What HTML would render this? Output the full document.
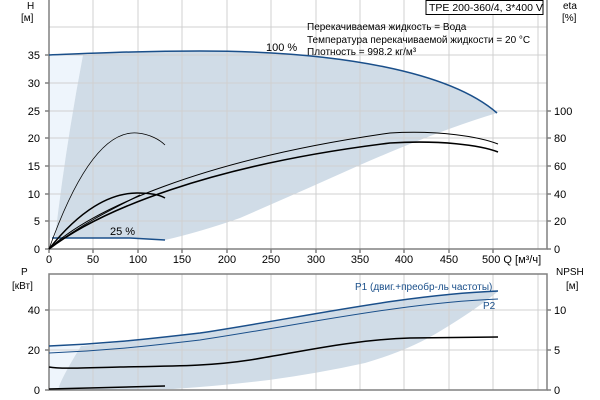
<!DOCTYPE html>
<html><head><meta charset="utf-8"><style>
body{margin:0;background:#fff}
svg{display:block;font-family:"Liberation Sans",sans-serif;font-size:11px}
</style></head><body>
<svg width="600" height="400" viewBox="0 0 600 400">
<rect width="600" height="400" fill="#fff"/>
<path d="M49,55 L49,238 L55,238 Q65,150 83,55 Z" fill="#eef5fc"/>
<path d="M83,55 Q65,150 55,238 L130,238 L165,240 Q200,232 240,218 Q300,192 360,165 Q440,130 497,113 C450,72 340,51 200,51 C140,51 100,53 83,55 Z" fill="#d0dce7"/>
<path d="M49,346 L81,346 Q60,380 58,390 L49,390 Z" fill="#eef5fc"/>
<path d="M81,346 Q60,380 58,390 L173,389 Q220,386 269,380 Q320,373 365,363 Q410,350 442,330 Q475,310 496,293 L498,291 C400,295 300,318 200,333 C140,341 100,344 81,346 Z" fill="#d0dce7"/>
<g stroke="#d0d0d0" stroke-width="1">
<path d="M93,0V249M138,0V249M182,0V249M227,0V249M271,0V249M316,0V249M360,0V249M404,0V249M449,0V249M493,0V249M538,0V249"/>
<path d="M49,221H547M49,194H547M49,166H547M49,138H547M49,111H547M49,83H547M49,55H547M49,27H547"/>
<path d="M93,274V390M138,274V390M182,274V390M227,274V390M271,274V390M316,274V390M360,274V390M404,274V390M449,274V390M493,274V390M538,274V390"/>
<path d="M49,350H547M49,310H547"/>
</g>
<g stroke="#808080" stroke-width="1.5" fill="none">
<path d="M49,0V249H547V0"/>
<rect x="49" y="274" width="498" height="116"/>
<path d="M45,249h4M45,221h4M45,194h4M45,166h4M45,138h4M45,111h4M45,83h4M45,55h4"/>
<path d="M547,249h4M547,221h4M547,194h4M547,166h4M547,138h4M547,111h4"/>
<path d="M49,249v4M93,249v4M138,249v4M182,249v4M227,249v4M271,249v4M316,249v4M360,249v4M404,249v4M449,249v4M493,249v4"/>
<path d="M45,390h4M45,350h4M45,310h4M547,390h4M547,350h4M547,310h4"/>
</g>
<path d="M49,55 C100,53 140,51 200,51 C340,51 450,72 497,113" fill="none" stroke="#1a4f8a" stroke-width="1.5"/>
<path d="M52,238 L130,238 L165,240" fill="none" stroke="#1a4f8a" stroke-width="1.5"/>
<path d="M49,249 C90,210 200,160 390,133 C440,130 480,137 498,144" fill="none" stroke="#000" stroke-width="1"/>
<path d="M49,249 C100,210 210,165 390,143 C440,140 480,145 498,152" fill="none" stroke="#000" stroke-width="1.6"/>
<path d="M49,249 C70,190 100,130 137,133 C150,134 160,140 165,145" fill="none" stroke="#000" stroke-width="0.8"/>
<path d="M49,249 C80,210 110,193 137,193 C150,193 160,195 165,198" fill="none" stroke="#000" stroke-width="1.5"/>
<path d="M49,249 C80,225 110,210 140,195" fill="none" stroke="#000" stroke-width="1"/>
<path d="M49,346 C100,344 140,340 200,333 C300,318 400,295 498,291" fill="none" stroke="#1a4f8a" stroke-width="1.5"/>
<path d="M49,353 C100,351 140,347 200,340 C300,325 400,303 498,299" fill="none" stroke="#1a4f8a" stroke-width="1"/>
<path d="M49,367 C60,369 80,368 120,367 C180,366 210,366 250,360 C300,352 350,340 410,338 L498,337" fill="none" stroke="#000" stroke-width="1.5"/>
<path d="M49,389 L165,386" fill="none" stroke="#000" stroke-width="1.5"/>
<g fill="#000">
<text x="27" y="9" font-size="10">H</text><text x="21" y="21" font-size="10">[м]</text>
<text x="563" y="9" font-size="10">eta</text><text x="562" y="21" font-size="10">[%]</text>
<g text-anchor="end"><text x="40" y="253">0</text><text x="40" y="225">5</text><text x="40" y="198">10</text><text x="40" y="170">15</text><text x="40" y="142">20</text><text x="40" y="115">25</text><text x="40" y="87">30</text><text x="40" y="59">35</text>
<text x="40" y="394">0</text><text x="40" y="354">20</text><text x="40" y="314">40</text></g>
<text x="554" y="253">0</text><text x="554" y="225">20</text><text x="554" y="198">40</text><text x="554" y="170">60</text><text x="554" y="142">80</text><text x="554" y="115">100</text>
<text x="554" y="394">0</text><text x="554" y="354">5</text><text x="554" y="314">10</text>
<g text-anchor="middle"><text x="49" y="263">0</text><text x="93" y="263">50</text><text x="138" y="263">100</text><text x="182" y="263">150</text><text x="227" y="263">200</text><text x="271" y="263">250</text><text x="316" y="263">300</text><text x="360" y="263">350</text><text x="404" y="263">400</text><text x="449" y="263">450</text></g>
<text x="482" y="263">500 Q [м³/ч]</text>
<text x="21" y="275" font-size="10">P</text><text x="12" y="289" font-size="10">[кВт]</text>
<text x="556" y="275" font-size="10">NPSH</text><text x="566" y="289" font-size="10">[м]</text>
<text x="266" y="51">100 %</text>
<text x="110" y="235">25 %</text>
<text x="307" y="30" font-size="10">Перекачиваемая жидкость = Вода</text>
<text x="307" y="43" font-size="10">Температура перекачиваемой жидкости = 20 °C</text>
<text x="307" y="55" font-size="10">Плотность = 998.2 кг/м³</text>
</g>
<rect x="426" y="0.5" width="117" height="14" fill="#fff" stroke="#000" stroke-width="1"/>
<text x="429" y="11" font-size="10.5">TPE 200-360/4, 3*400 V</text>
<text x="355" y="290" font-size="10" fill="#1a4f8a">P1 (двиг.+преобр-ль частоты)</text>
<text x="483" y="309" font-size="10" fill="#1a4f8a">P2</text>
</svg>
</body></html>
